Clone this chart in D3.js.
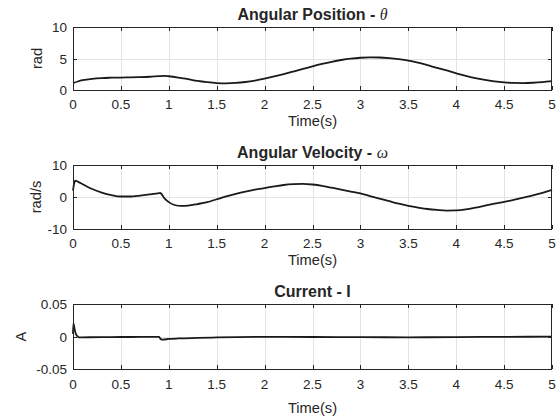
<!DOCTYPE html>
<html>
<head>
<meta charset="utf-8">
<script src="https://cdn.jsdelivr.net/npm/d3@7"></script>
<style>
  html, body { margin: 0; padding: 0; background: #fff; }
  svg { display: block; }
  text { font-family: "Liberation Sans", Arial, Helvetica, sans-serif; fill: #262626; }
</style>
</head>
<body>
<svg id="chart" width="559" height="419"></svg>
<script>
// ---------- data ----------
const timeTicks = [0, 0.5, 1, 1.5, 2, 2.5, 3, 3.5, 4, 4.5, 5];

const posTime = [0, 0.05, 0.1, 0.2, 0.3, 0.4, 0.5, 0.6, 0.7, 0.8, 0.9, 0.95, 1.0, 1.1, 1.2,
  1.3, 1.4, 1.5, 1.6, 1.7, 1.8, 1.9, 2.0, 2.1, 2.2, 2.3, 2.4, 2.5, 2.6, 2.7, 2.8, 2.9,
  3.0, 3.1, 3.2, 3.3, 3.4, 3.5, 3.6, 3.7, 3.8, 3.9, 4.0, 4.1, 4.2, 4.3, 4.4, 4.5, 4.6,
  4.7, 4.8, 4.9, 5.0];
const posValues = [1.1, 1.35, 1.55, 1.78, 1.9, 1.95, 1.98, 2.0, 2.04, 2.1, 2.2, 2.24, 2.18, 1.98, 1.72,
  1.45, 1.25, 1.1, 1.05, 1.12, 1.27, 1.5, 1.8, 2.15, 2.53, 2.93, 3.34, 3.75, 4.13, 4.47, 4.76, 4.98,
  5.12, 5.18, 5.16, 5.06, 4.9, 4.68, 4.35, 3.95, 3.5, 3.1, 2.65, 2.25, 1.9, 1.6, 1.38, 1.22, 1.12,
  1.1, 1.15, 1.25, 1.4];

const velTime = [0, 0.01, 0.025, 0.05, 0.1, 0.15, 0.2, 0.3, 0.4, 0.5, 0.6, 0.7, 0.8, 0.9, 0.91,
  0.955, 1.0, 1.06, 1.13, 1.2, 1.3, 1.4, 1.5, 1.6, 1.7, 1.8, 1.9, 2.0, 2.1, 2.2, 2.3, 2.4,
  2.5, 2.6, 2.7, 2.8, 2.9, 3.0, 3.1, 3.2, 3.3, 3.4, 3.5, 3.6, 3.7, 3.8, 3.9, 4.0, 4.1, 4.2,
  4.3, 4.4, 4.5, 4.6, 4.7, 4.8, 4.9, 5.0];
const velValues = [2.0, 4.0, 5.1, 4.8, 4.0, 3.2, 2.5, 1.4, 0.6, 0.15, 0.15, 0.45, 0.8, 1.2, 1.25,
  -0.4, -1.6, -2.5, -2.8, -2.7, -2.2, -1.6, -0.7, 0.2, 1.0, 1.7, 2.3, 2.8, 3.3, 3.75, 4.0, 4.1,
  3.9, 3.5, 2.9, 2.3, 1.7, 1.1, 0.3, -0.5, -1.3, -2.1, -2.8, -3.3, -3.75, -4.05, -4.25, -4.2, -3.9, -3.35,
  -2.7, -2.1, -1.55, -0.9, -0.2, 0.5, 1.3, 2.2];

const curTime = [0, 0.004, 0.01, 0.02, 0.03, 0.045, 0.06, 0.1, 0.3, 0.5, 0.7, 0.9, 0.915, 0.94,
  1.0, 1.1, 1.3, 1.5, 2.0, 2.5, 3.0, 3.5, 4.0, 4.5, 5.0];
const curValues = [0.004, 0.02, 0.017, 0.009, 0.004, 0.0005, -0.0012, -0.0012, -0.001, -0.0008, -0.0007, -0.0006, -0.004, -0.0048,
  -0.0038, -0.003, -0.0022, -0.0015, -0.0006, -0.0008, -0.0011, -0.0012, -0.0009, -0.0005, -0.0003];

const posTicks = [0, 5, 10];
const velTicks = [-10, 0, 10];
const curTicks = [-0.05, 0, 0.05];
const curTickLabels = ["-0.05", "0", "0.05"];

// ---------- layout ----------
const svg = d3.select("#chart");
const left = 73, right = 552;
const ink = "#262626";

const panels = [
  { top: 27, bottom: 90, domain: [0, 10], ticks: posTicks, labels: posTicks.map(String),
    t: posTime, v: posValues, title: ["Angular Position - ", "\u03b8"], ylab: "rad",
    ylabX: 42, titleY: 19.5, tickY: 108.5, xlabY: 126 },
  { top: 165, bottom: 229, domain: [-10, 10], ticks: velTicks, labels: velTicks.map(String),
    t: velTime, v: velValues, title: ["Angular Velocity - ", "\u03c9"], ylab: "rad/s",
    ylabX: 41, titleY: 158, tickY: 248, xlabY: 265 },
  { top: 304, bottom: 369, domain: [-0.05, 0.05], ticks: curTicks, labels: curTickLabels,
    t: curTime, v: curValues, title: ["Current - I", ""], ylab: "A",
    ylabX: 26, titleY: 297, tickY: 389, xlabY: 413 }
];

const x = d3.scaleLinear().domain([0, 5]).range([left, right]);

panels.forEach(p => {
  const y = d3.scaleLinear().domain(p.domain).range([p.bottom, p.top]);
  const g = svg.append("g");

  // grid
  g.selectAll(".vg").data(timeTicks.slice(1, -1)).join("line")
    .attr("x1", d => Math.round(x(d)) + 0.5).attr("x2", d => Math.round(x(d)) + 0.5)
    .attr("y1", p.top).attr("y2", p.bottom)
    .attr("stroke", "#e3e3e3").attr("stroke-width", 1);
  g.selectAll(".hg").data(p.ticks.slice(1, -1)).join("line")
    .attr("x1", left).attr("x2", right)
    .attr("y1", d => Math.round(y(d)) + 0.5).attr("y2", d => Math.round(y(d)) + 0.5)
    .attr("stroke", "#e3e3e3").attr("stroke-width", 1);

  // data line
  const line = d3.line()
    .x((d, i) => x(p.t[i]))
    .y(d => y(d))
    .curve(d3.curveMonotoneX);
  g.append("path").datum(p.v)
    .attr("d", line)
    .attr("fill", "none")
    .attr("stroke", "#1a1a1a")
    .attr("stroke-width", 1.8)
    .attr("stroke-linejoin", "round");

  // box
  g.append("rect")
    .attr("x", left + 0.5).attr("y", p.top + 0.5)
    .attr("width", right - left - 1).attr("height", p.bottom - p.top)
    .attr("fill", "none").attr("stroke", ink).attr("stroke-width", 1);

  // ticks (inward, all sides)
  const tl = 4;
  timeTicks.forEach(d => {
    const xx = Math.round(x(d)) + 0.5;
    g.append("line").attr("x1", xx).attr("x2", xx).attr("y1", p.bottom).attr("y2", p.bottom - tl).attr("stroke", ink);
    g.append("line").attr("x1", xx).attr("x2", xx).attr("y1", p.top).attr("y2", p.top + tl).attr("stroke", ink);
  });
  p.ticks.forEach(d => {
    const yy = Math.round(y(d)) + 0.5;
    g.append("line").attr("x1", left).attr("x2", left + tl).attr("y1", yy).attr("y2", yy).attr("stroke", ink);
    g.append("line").attr("x1", right).attr("x2", right - tl).attr("y1", yy).attr("y2", yy).attr("stroke", ink);
  });

  // x tick labels
  g.selectAll(".xt").data(timeTicks).join("text")
    .attr("x", d => x(d)).attr("y", p.tickY)
    .attr("text-anchor", "middle").attr("font-size", "13.5px")
    .text(d => String(d));

  // y tick labels
  g.selectAll(".yt").data(p.ticks).join("text")
    .attr("x", left - 6).attr("y", d => y(d) + 5)
    .attr("text-anchor", "end").attr("font-size", "13.5px")
    .text((d, i) => p.labels[i]);

  // x label
  g.append("text")
    .attr("x", (left + right) / 2).attr("y", p.xlabY)
    .attr("text-anchor", "middle").attr("font-size", "14.7px")
    .text("Time(s)");

  // y label
  g.append("text")
    .attr("transform", `translate(${p.ylabX},${(p.top + p.bottom) / 2}) rotate(-90)`)
    .attr("text-anchor", "middle").attr("font-size", "14.7px")
    .text(p.ylab);

  // title
  const t = g.append("text")
    .attr("x", (left + right) / 2).attr("y", p.titleY)
    .attr("text-anchor", "middle").attr("font-size", "16px").attr("font-weight", "bold");
  t.append("tspan").text(p.title[0]);
  if (p.title[1]) {
    t.append("tspan")
      .attr("font-style", "italic").attr("font-weight", "normal")
      .attr("font-family", "'Liberation Serif', 'DejaVu Serif', serif")
      .text(p.title[1]);
  }
});
</script>
</body>
</html>
